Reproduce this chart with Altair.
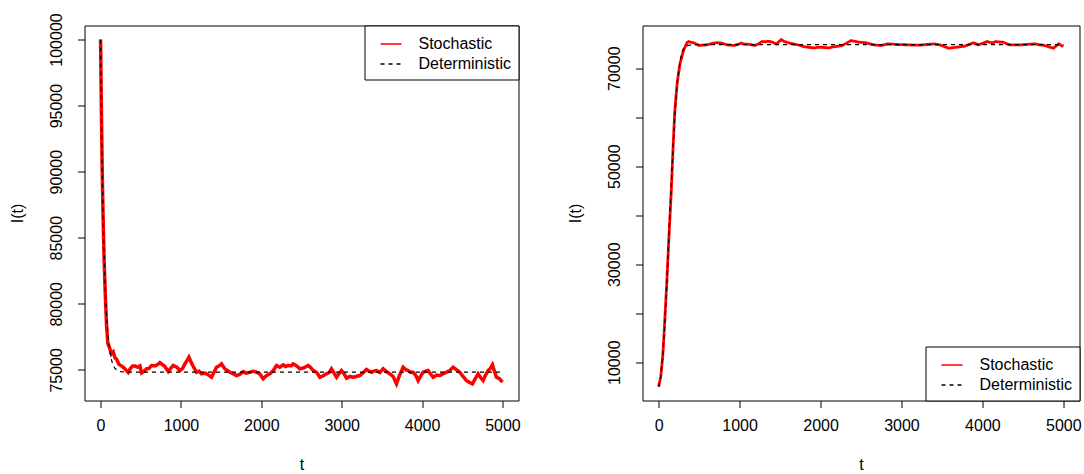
import altair as alt
import pandas as pd

# ---------------- data ----------------
# Left panel: stochastic path
left_t_sto = [0, 10, 20, 30, 40, 50, 60, 75, 90, 116, 135, 158, 180, 199, 230, 261, 300, 344, 370, 400,
              427, 460, 489, 510, 540, 572, 600, 634, 680, 710, 738, 770, 800, 842, 870, 904, 950, 987,
              1020, 1049, 1075, 1099, 1125, 1153, 1194, 1225, 1256, 1300, 1339, 1381, 1410, 1443, 1475,
              1505, 1546, 1580, 1609, 1650, 1692, 1730, 1774, 1810, 1857, 1900, 1940, 1980, 2023, 2060,
              2106, 2150, 2189, 2230, 2272, 2300, 2334, 2370, 2396, 2440, 2479, 2530, 2583, 2610, 2645,
              2690, 2728, 2770, 2811, 2845, 2873, 2900, 2935, 2965, 2997, 3030, 3060, 3100, 3143, 3180,
              3226, 3270, 3308, 3340, 3371, 3400, 3433, 3475, 3516, 3560, 3599, 3640, 3682, 3720, 3765,
              3800, 3827, 3860, 3889, 3920, 3951, 3980, 4013, 4045, 4075, 4105, 4138, 4180, 4221, 4260,
              4303, 4345, 4386, 4430, 4469, 4510, 4552, 4590, 4627, 4660, 4697, 4730, 4760, 4790, 4822,
              4850, 4876, 4900, 4925, 4960, 5000]
left_sto = [100000, 94800, 90200, 87000, 84300, 82200, 80500, 78300, 77000, 76600, 76200, 76350, 75900,
            75800, 75400, 75300, 75100, 74800, 75100, 75300, 75300, 75200, 75300, 74770, 74900, 75080,
            75100, 75330, 75300, 75400, 75550, 75400, 75250, 74870, 75100, 75330, 75200, 74950, 75100,
            75450, 75700, 75960, 75600, 75250, 74820, 74900, 74700, 74750, 74620, 74440, 74800, 75200,
            75300, 75450, 75080, 74950, 74820, 74700, 74570, 74650, 74870, 74750, 74820, 74900, 74820,
            74700, 74320, 74550, 74700, 74950, 75330, 75200, 75380, 75250, 75330, 75300, 75450, 75300,
            75080, 75150, 75330, 75200, 74950, 74800, 74440, 74550, 74700, 74800, 75080, 74800, 74440,
            74700, 74950, 74700, 74370, 74500, 74440, 74500, 74570, 74800, 75030, 74900, 74820, 74900,
            74950, 74800, 75080, 74850, 74700, 74500, 73940, 74600, 75200, 75000, 74950, 74800, 74820,
            74600, 74190, 74500, 74820, 74900, 74950, 74700, 74440, 74600, 74570, 74700, 74820, 74950,
            75200, 75000, 74820, 74500, 74190, 74050, 73940, 74300, 74700, 74400, 74190, 74600, 74950,
            75100, 75380, 74900, 74440, 74350, 74070]
# Left panel: deterministic curve
left_t_det = [0, 10, 20, 30, 40, 50, 60, 70, 80, 100, 125, 150, 175, 200, 250, 300, 400, 5000]
left_det = [100000, 94500, 90300, 87100, 84600, 82500, 80900, 79600, 78600, 77100, 76000, 75450,
            75150, 74990, 74870, 74830, 74820, 74820]

# Right panel: stochastic path
right_t_sto = [0, 26, 50, 69, 100, 125, 155, 177, 198, 229, 263, 306, 349, 371, 400, 436, 470, 500, 540,
               587, 630, 673, 720, 759, 800, 846, 890, 932, 975, 1018, 1060, 1104, 1150, 1191, 1235,
               1277, 1320, 1363, 1405, 1450, 1480, 1514, 1545, 1579, 1620, 1665, 1710, 1751, 1795, 1838,
               1880, 1924, 1965, 2010, 2055, 2097, 2140, 2183, 2225, 2269, 2320, 2377, 2420, 2463, 2520,
               2571, 2615, 2657, 2700, 2743, 2790, 2830, 2900, 2959, 3020, 3089, 3150, 3218, 3260, 3304,
               3360, 3412, 3455, 3498, 3540, 3585, 3640, 3693, 3735, 3779, 3830, 3887, 3920, 3952, 4005,
               4059, 4090, 4124, 4145, 4167, 4210, 4254, 4300, 4340, 4400, 4469, 4550, 4642, 4700, 4771,
               4830, 4879, 4910, 4944, 4970, 5000]
right_sto = [5000, 7100, 11200, 16600, 26200, 35000, 44700, 53500, 61000, 67100, 70900, 73600, 75200,
             75440, 75300, 75170, 74900, 74630, 74700, 74760, 74900, 75100, 75200, 75170, 75000, 74760,
             74700, 74630, 74850, 75100, 74950, 74900, 74750, 74630, 75000, 75440, 75400, 75510, 75300,
             74970, 75300, 75850, 75500, 75310, 75100, 74970, 74800, 74630, 74400, 74290, 74200, 74150,
             74250, 74290, 74200, 74150, 74300, 74420, 74500, 74630, 75100, 75650, 75500, 75310, 75250,
             75170, 74950, 74760, 74700, 74630, 74800, 74970, 74900, 74830, 74800, 74760, 74700, 74690,
             74750, 74830, 74900, 74970, 74800, 74630, 74350, 74080, 74200, 74290, 74400, 74490, 74800,
             75170, 75000, 74760, 75100, 75440, 75300, 75170, 75300, 75440, 75350, 75310, 75000, 74760,
             74750, 74760, 74850, 74970, 74800, 74630, 74300, 74080, 74500, 74970, 74700, 74420]
# Right panel: deterministic curve
right_t_det = [0, 25, 50, 75, 100, 125, 150, 175, 200, 225, 250, 275, 300, 325, 350, 400, 500, 5000]
right_det = [5000, 7000, 11000, 17500, 26000, 35500, 44500, 53000, 60500, 66000, 69800, 72300, 73700,
             74300, 74600, 74750, 74800, 74800]

x_ticks = [0, 1000, 2000, 3000, 4000, 5000]
left_y_ticks = [75000, 80000, 85000, 90000, 95000, 100000]
right_y_ticks = [10000, 20000, 30000, 40000, 50000, 60000, 70000]
series_names = ["Stochastic", "Deterministic"]
series_colors = ["#ff0000", "#000000"]

FONT = "Liberation Sans"


def panel(t_s, v_s, t_d, v_d, ydomain, yticks, label_expr, legend_orient, red_width, width):
    df = pd.DataFrame({
        "t": t_s + t_d,
        "I": v_s + v_d,
        "series": [series_names[0]] * len(t_s) + [series_names[1]] * len(t_d),
    })
    legend = alt.Legend(
        title=None, orient=legend_orient, offset=0, symbolType="stroke", symbolSize=441,
        symbolStrokeWidth=1.5, symbolOffset=8, labelFont=FONT, labelFontSize=16,
        labelColor="#000000", labelOffset=16, padding=7, rowPadding=0,
        strokeColor="#000000", fillColor="#ffffff", cornerRadius=0,
    )
    yaxis_kwargs = dict(values=yticks, title="I(t)", format="d", labelAngle=-90,
                        labelAlign="center", labelBaseline="bottom", labelPadding=13.5,
                        titlePadding=22.5)
    if label_expr:
        yaxis_kwargs["labelExpr"] = label_expr
    base = alt.Chart(df).encode(
        x=alt.X("t:Q", scale=alt.Scale(domain=[-200, 5200], nice=False, zero=False),
                axis=alt.Axis(values=x_ticks, title="t", format="d", labelPadding=10,
                              titlePadding=23)),
        y=alt.Y("I:Q", scale=alt.Scale(domain=ydomain, nice=False, zero=False),
                axis=alt.Axis(**yaxis_kwargs)),
        color=alt.Color("series:N", scale=alt.Scale(domain=series_names, range=series_colors),
                        legend=legend),
        strokeDash=alt.StrokeDash("series:N",
                                  scale=alt.Scale(domain=series_names, range=[[1, 0], [4, 4]]),
                                  legend=legend),
    )
    sto = base.transform_filter(alt.datum.series == series_names[0]).mark_line(strokeWidth=red_width)
    det = base.transform_filter(alt.datum.series == series_names[1]).mark_line(strokeWidth=1.2)
    return alt.layer(sto, det).properties(width=width, height=375)


left = panel(left_t_sto, left_sto, left_t_det, left_det, [72680, 101060], left_y_ticks, None,
             "top-right", 3.5, 434)
right = panel(right_t_sto, right_sto, right_t_det, right_det, [2184, 78714], right_y_ticks,
              "datum.value == 10000 || datum.value == 30000 || datum.value == 50000 || datum.value == 70000 ? datum.label : ''",
              "bottom-right", 2.8, 437)

chart = alt.hconcat(left, right, spacing=45).resolve_scale(
    color="independent", strokeDash="independent"
).resolve_legend(
    color="independent", strokeDash="independent"
).properties(
    padding={"left": 8.5, "top": 11.5, "right": 0, "bottom": 0},
    background="#ffffff",
).configure_view(
    stroke="#000000", strokeWidth=1
).configure_axis(
    labelFont=FONT, labelFontSize=16, labelColor="#000000",
    titleFont=FONT, titleFontSize=16, titleFontWeight="normal", titleColor="#000000",
    domain=False, grid=False, tickSize=7, tickColor="#000000", tickWidth=1,
)

chart.save("out.html", embed_options={"renderer": "svg", "actions": False})
